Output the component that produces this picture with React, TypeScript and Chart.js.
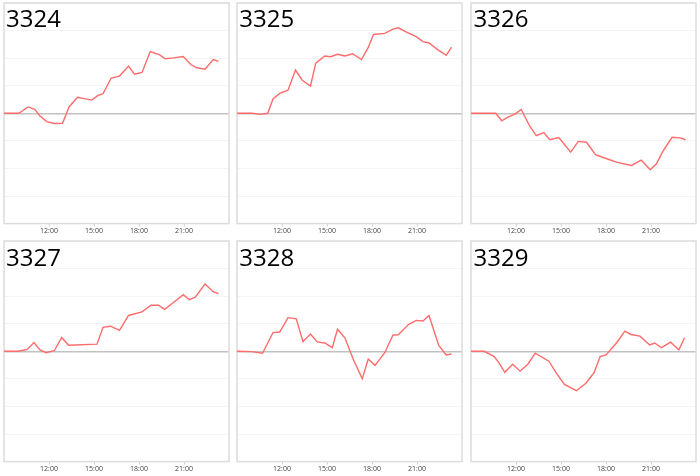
import React, { useEffect, useRef } from "react";
import { Chart, registerables } from "chart.js";

Chart.register(...registerables);

// hours of day (decimal) and change values
const titles = ["3324", "3325", "3326", "3327", "3328", "3329"];
const hourTicks = [12, 15, 18, 21];

const times3324 = [9.0, 10.0, 10.6, 11.05, 11.4, 11.85, 12.35, 12.9, 13.35, 13.9, 14.85, 15.25, 15.6, 16.15, 16.7, 17.3, 17.7, 18.2, 18.75, 19.35, 19.75, 20.3, 20.95, 21.45, 21.85, 22.4, 22.95, 23.3];
const values3324 = [0, 0, 0.23, 0.14, -0.1, -0.3, -0.37, -0.36, 0.24, 0.58, 0.48, 0.64, 0.71, 1.28, 1.35, 1.71, 1.42, 1.48, 2.24, 2.13, 1.98, 2.01, 2.06, 1.77, 1.65, 1.6, 1.95, 1.88];

const times3325 = [9.0, 10.0, 10.6, 11.05, 11.4, 11.85, 12.4, 12.9, 13.35, 13.9, 14.25, 14.85, 15.25, 15.7, 16.2, 16.7, 17.3, 17.75, 18.1, 18.85, 19.4, 19.75, 20.3, 20.95, 21.4, 21.8, 22.4, 22.95, 23.3];
const values3325 = [0, 0, -0.04, 0, 0.52, 0.72, 0.84, 1.57, 1.2, 0.99, 1.82, 2.08, 2.05, 2.14, 2.08, 2.16, 1.95, 2.39, 2.86, 2.9, 3.05, 3.1, 2.94, 2.78, 2.6, 2.55, 2.3, 2.1, 2.4];

const times3326 = [9.0, 10.65, 11.05, 11.45, 11.9, 12.35, 12.9, 13.35, 13.85, 14.25, 14.85, 15.65, 16.15, 16.7, 17.3, 17.95, 18.75, 19.7, 20.35, 20.95, 21.35, 21.8, 22.4, 22.95, 23.3];
const values3326 = [0, 0, -0.27, -0.14, -0.04, 0.14, -0.45, -0.81, -0.7, -0.96, -0.88, -1.41, -1.02, -1.05, -1.5, -1.63, -1.78, -1.89, -1.7, -2.05, -1.84, -1.37, -0.87, -0.89, -0.96];

const times3327 = [9.0, 9.95, 10.55, 11.0, 11.4, 11.8, 12.35, 12.85, 13.3, 15.2, 15.6, 16.1, 16.7, 17.3, 18.2, 18.8, 19.3, 19.7, 20.3, 20.95, 21.35, 21.75, 22.4, 22.95, 23.3];
const values3327 = [0, 0, 0.07, 0.32, 0.05, -0.05, 0.02, 0.5, 0.22, 0.26, 0.87, 0.91, 0.76, 1.3, 1.43, 1.67, 1.67, 1.52, 1.77, 2.05, 1.87, 1.96, 2.44, 2.16, 2.09];

const times3328 = [9.0, 10.0, 10.7, 11.4, 11.85, 12.4, 12.95, 13.4, 13.9, 14.35, 14.85, 15.35, 15.7, 16.2, 16.75, 17.35, 17.75, 18.2, 18.85, 19.4, 19.75, 20.45, 20.95, 21.4, 21.8, 22.45, 22.95, 23.3];
const values3328 = [0, -0.01, -0.07, 0.68, 0.7, 1.22, 1.18, 0.35, 0.63, 0.34, 0.3, 0.13, 0.8, 0.48, -0.29, -1.0, -0.28, -0.51, -0.05, 0.59, 0.6, 0.98, 1.12, 1.1, 1.3, 0.21, -0.13, -0.1];

const times3329 = [9.0, 9.88, 10.55, 10.88, 11.25, 11.78, 12.27, 12.8, 13.28, 14.19, 14.7, 15.23, 16.02, 16.66, 17.21, 17.61, 18.0, 18.71, 19.26, 19.66, 20.26, 20.92, 21.25, 21.69, 22.31, 22.86, 23.24];
const values3329 = [0, 0, -0.19, -0.43, -0.76, -0.47, -0.72, -0.46, -0.07, -0.36, -0.8, -1.2, -1.43, -1.16, -0.77, -0.19, -0.13, 0.31, 0.73, 0.61, 0.55, 0.23, 0.3, 0.13, 0.33, 0.05, 0.49];

const seriesTimes = [times3324, times3325, times3326, times3327, times3328, times3329];
const seriesValues = [values3324, values3325, values3326, values3327, values3328, values3329];

const colLefts = [3.5, 236.7, 471];
const rowTops = [2.7, 241];
const areaW = 225;
const canvasW = areaW + 2;
const canvasH = 236;

const frame = {
  id: "frame",
  beforeDatasetsDraw(chart: any) {
    const { ctx, chartArea: a } = chart;
    ctx.save();
    ctx.strokeStyle = "#dcdcdc";
    ctx.lineWidth = 1.5;
    ctx.strokeRect(a.left, a.top, a.right - a.left, a.bottom - a.top);
    ctx.restore();
  },
};

const Panel = ({ title, times, values, left, top }: any) => {
  const ref = useRef<HTMLCanvasElement | null>(null);

  useEffect(() => {
    if (!ref.current) return;
    const chart = new Chart(ref.current, {
      type: "line",
      data: {
        datasets: [
          {
            data: times.map((t: number, i: number) => ({ x: t, y: values[i] })),
            borderColor: "#ff6b6b",
            borderWidth: 1.4,
            pointRadius: 0,
            tension: 0,
            fill: false,
          },
        ],
      },
      options: {
        animation: false,
        responsive: false,
        layout: { padding: { left: 1, right: 1, top: 1, bottom: 3 } },
        plugins: { legend: { display: false }, tooltip: { enabled: false } },
        scales: {
          x: {
            type: "linear",
            min: 9,
            max: 24,
            border: { display: false },
            grid: {
              drawOnChartArea: false,
              drawTicks: true,
              tickLength: 3,
              color: "#d4d4d4",
            },
            ticks: {
              stepSize: 3,
              autoSkip: false,
              maxRotation: 0,
              padding: 0,
              color: "#3f3f46",
              font: { family: "'Open Sans', sans-serif", size: 7 },
              callback: (v: any) => (hourTicks.includes(v) ? `${v}:00` : null),
            },
          },
          y: {
            min: -4,
            max: 4,
            border: { display: false },
            grid: {
              drawTicks: false,
              color: (c: any) => (c.tick && c.tick.value === 0 ? "#c2c2c2" : "#f4f4f4"),
              lineWidth: (c: any) => (c.tick && c.tick.value === 0 ? 1.5 : 1),
            },
            ticks: { display: false, stepSize: 1 },
          },
        },
      },
      plugins: [frame],
    });
    return () => chart.destroy();
  }, [times, values]);

  return (
    <>
      <canvas
        ref={ref}
        width={canvasW}
        height={canvasH}
        style={{ position: "absolute", left: left - 1, top: top - 1, width: canvasW, height: canvasH }}
      />
      <div
        style={{
          position: "absolute",
          left: left + 2.6,
          top: top + 3.7,
          fontFamily: "'Open Sans', sans-serif",
          fontSize: 24,
          lineHeight: "24px",
          color: "#000",
        }}
      >
        {title}
      </div>
    </>
  );
};

export default function App() {
  return (
    <div style={{ position: "absolute", left: 0, top: 0, width: 700, height: 476, background: "#fff" }}>
      {titles.map((t, i) => (
        <Panel
          key={t}
          title={t}
          times={seriesTimes[i]}
          values={seriesValues[i]}
          left={colLefts[i % 3]}
          top={rowTops[Math.floor(i / 3)]}
        />
      ))}
    </div>
  );
}
